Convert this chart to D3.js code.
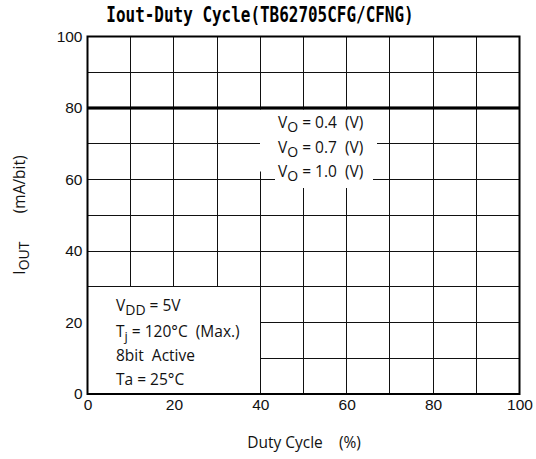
<!DOCTYPE html>
<html><head><meta charset="utf-8">
<script src="https://cdn.jsdelivr.net/npm/d3@7"></script>
<style>body{margin:0;background:#fff}svg{display:block}text{white-space:pre}</style>
</head><body>
<svg id="c" width="536" height="459"></svg>
<script>
const duty = [0, 100];
const seriesNames = ["0.4", "0.7", "1.0"];
const seriesValues = [[80, 80], [80, 80], [80, 80]];
const xTicks = [0, 20, 40, 60, 80, 100];
const yTicks = [0, 20, 40, 60, 80, 100];
const gridX = [10, 20, 30, 40, 50, 60, 70, 80, 90];
const gridY = [10, 20, 30, 40, 50, 60, 70, 80, 90];

const svg = d3.select("#c");
const L = 87.5, R = 519.5, T = 36.5, B = 394;
const x = d3.scaleLinear().domain([0, 100]).range([L, R]);
const y = d3.scaleLinear().domain([0, 100]).range([B, T]);
const sans = "'Liberation Sans', Arial, sans-serif";
const label = "'Open Sans', 'Noto Sans', sans-serif";
const fs = 15.5;

// grid
const g = svg.append("g").attr("stroke", "#111").attr("stroke-width", 1).attr("shape-rendering", "crispEdges");
g.selectAll("line.v").data(gridX).join("line").attr("class", "v")
  .attr("x1", d => x(d)).attr("x2", d => x(d)).attr("y1", T).attr("y2", B);
g.selectAll("line.h").data(gridY).join("line").attr("class", "h")
  .attr("y1", d => y(d)).attr("y2", d => y(d)).attr("x1", L).attr("x2", R);

// legend masks
svg.append("rect").attr("x", 260).attr("y", y(80) + 1.5).attr("width", 117).attr("height", 62).attr("fill", "#fff");
svg.append("rect").attr("x", 275).attr("y", y(80) + 50).attr("width", 98).attr("height", 30).attr("fill", "#fff");

// conditions box
svg.append("rect").attr("x", x(0)).attr("y", y(30)).attr("width", x(40) - x(0)).attr("height", y(0) - y(30))
  .attr("fill", "#fff").attr("stroke", "#111").attr("stroke-width", 1).attr("shape-rendering", "crispEdges");

// data lines
const line = d3.line().x((d, i) => x(duty[i])).y(d => y(d));
svg.selectAll("path.s").data(seriesValues).join("path").attr("class", "s")
  .attr("d", d => line(d)).attr("fill", "none").attr("stroke", "#000").attr("stroke-width", 2.5);

// border
svg.append("rect").attr("x", L).attr("y", T).attr("width", R - L).attr("height", B - T)
  .attr("fill", "none").attr("stroke", "#000").attr("stroke-width", 2);

// axes (labels only)
const xa = d3.axisBottom(x).tickValues(xTicks).tickSize(0).tickPadding(0);
const xg = svg.append("g").attr("transform", `translate(0,${B})`).call(xa);
xg.select(".domain").remove();
xg.selectAll("text").attr("font-family", sans).attr("font-size", 15.5).attr("fill", "#111").attr("dy", "1.05em");
const ya = d3.axisLeft(y).tickValues(yTicks).tickSize(0).tickPadding(5);
const yg = svg.append("g").attr("transform", `translate(${L},0)`).call(ya);
yg.select(".domain").remove();
yg.selectAll("text").attr("font-family", sans).attr("font-size", 15.5).attr("fill", "#111").attr("dy", "0.3em");

// legend labels
const legY = [128, 153, 177];
seriesNames.forEach((s, i) => {
  const t = svg.append("text").attr("x", 278).attr("y", legY[i]).attr("font-family", label).attr("font-size", fs).attr("fill", "#111");
  t.append("tspan").text("V");
  t.append("tspan").attr("font-size", 14).attr("dy", 4).text("O");
  t.append("tspan").attr("dy", -4).text(" = " + s + "  (V)");
});

// conditions text
const cx = 116;
let t1 = svg.append("text").attr("x", cx).attr("y", 311).attr("font-family", label).attr("font-size", fs).attr("fill", "#111");
t1.append("tspan").text("V");
t1.append("tspan").attr("font-size", 14).attr("dy", 4).text("DD");
t1.append("tspan").attr("dy", -4).text(" = 5V");
let t2 = svg.append("text").attr("x", cx).attr("y", 337).attr("font-family", label).attr("font-size", fs).attr("fill", "#111");
t2.append("tspan").text("T");
t2.append("tspan").attr("font-size", 13).attr("dy", 4).text("j");
t2.append("tspan").attr("dy", -4).text(" = 120°C  (Max.)");
svg.append("text").attr("x", cx).attr("y", 361).attr("font-family", label).attr("font-size", fs).attr("fill", "#111").text("8bit  Active");
svg.append("text").attr("x", cx).attr("y", 385).attr("font-family", label).attr("font-size", fs).attr("fill", "#111").text("Ta = 25°C");

// title
svg.append("text").attr("transform", "translate(260,22) scale(0.76,1)").attr("text-anchor", "middle")
  .attr("font-family", "'DejaVu Sans Mono', monospace").attr("font-weight", "bold").attr("font-size", 21)
  .attr("fill", "#000").text("Iout-Duty Cycle(TB62705CFG/CFNG)");

// x label
svg.append("text").attr("x", 304).attr("y", 448).attr("text-anchor", "middle").attr("font-family", label)
  .attr("font-size", fs).attr("fill", "#111").text("Duty Cycle    (%)");

// y label
const yl = svg.append("text").attr("transform", "translate(25,215) rotate(-90)").attr("text-anchor", "middle")
  .attr("font-family", label).attr("font-size", fs).attr("fill", "#111");
yl.append("tspan").text("I");
yl.append("tspan").attr("font-size", 14).attr("dy", 4).text("OUT");
yl.append("tspan").attr("dy", -4).text("       (mA/bit)");
</script>
</body></html>
